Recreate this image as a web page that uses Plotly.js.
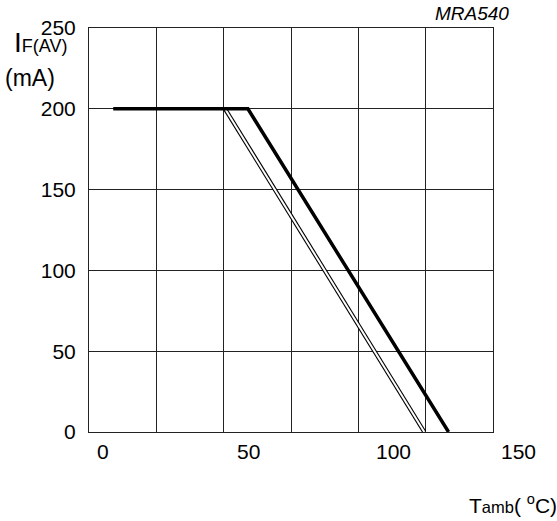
<!DOCTYPE html>
<html>
<head>
<meta charset="utf-8">
<script src="https://cdn.plot.ly/plotly-3.0.1.min.js"></script>
<style>html,body{margin:0;padding:0;background:#fff;}#chart{width:557px;height:521px;}</style>
</head>
<body>
<div id="chart"></div>
<script>
// Ambient temperature (deg C, grid units) and average forward current (mA)
const tempThick = [9, 59, 133.5];
const currentThick = [200, 200, 0];
const tempThin = [50.5, 124.5];
const currentThin = [200, 0];

const xTickLabels = ["0", "50", "100", "150"];
const xTickPaperPos = [0.0336, 0.3948, 0.7534, 1.0643];
const yTicks = [0, 50, 100, 150, 200, 250];

const FONT = "Liberation Sans, Arial, Helvetica, sans-serif";

const traces = [
  {x: tempThin, y: currentThin, mode: "lines", line: {color: "#000", width: 4.2}, hoverinfo: "skip", showlegend: false},
  {x: tempThin, y: currentThin, mode: "lines", line: {color: "#fff", width: 2}, hoverinfo: "skip", showlegend: false},
  {x: tempThick, y: currentThick, mode: "lines", line: {color: "#000", width: 3.5}, showlegend: false}
];

const annotations = xTickLabels.map((t, i) => ({
  text: t, xref: "paper", yref: "paper", x: xTickPaperPos[i], y: -0.049,
  xanchor: "center", yanchor: "middle", showarrow: false,
  font: {family: FONT, size: 21, color: "#000"}
}));

annotations.push(
  {text: "I<span style='font-size:18px'>F(AV)</span>", xref: "paper", yref: "paper",
   x: -0.19, y: 0.922, xanchor: "left", yanchor: "bottom", showarrow: false,
   font: {family: FONT, size: 28, color: "#000"}},
  {text: "(mA)", xref: "paper", yref: "paper",
   x: -0.214, y: 0.877, xanchor: "left", yanchor: "middle", showarrow: false,
   font: {family: FONT, size: 23, color: "#000"}},
  {text: "MRA540", xref: "paper", yref: "paper",
   x: 1.045, y: 1.035, xanchor: "right", yanchor: "middle", showarrow: false,
   font: {family: FONT, size: 19, color: "#000", style: "italic"}},
  {text: "T<span style='font-size:16.5px'>amb</span>( <sup>o</sup>C)", xref: "paper", yref: "paper",
   x: 1.163, y: -0.178, xanchor: "right", yanchor: "middle", showarrow: false,
   font: {family: FONT, size: 21, color: "#000"}}
);

const layout = {
  width: 557, height: 521,
  margin: {l: 89, r: 64, t: 28, b: 89},
  paper_bgcolor: "#fff", plot_bgcolor: "#fff",
  font: {family: FONT, size: 21, color: "#000"},
  xaxis: {range: [0, 150], dtick: 25, tick0: 0, showgrid: true, gridcolor: "#222", gridwidth: 1,
          showticklabels: false, zeroline: false, showline: true, linecolor: "#222", linewidth: 1, mirror: true, ticks: ""},
  yaxis: {range: [0, 250], tickvals: yTicks, showgrid: true, gridcolor: "#222", gridwidth: 1,
          zeroline: false, showline: true, linecolor: "#222", linewidth: 1, mirror: true, ticks: "",
          ticklabelstandoff: 8, tickfont: {family: FONT, size: 21, color: "#000"}},
  annotations: annotations
};

Plotly.newPlot("chart", traces, layout, {staticPlot: true, displayModeBar: false});
</script>
</body>
</html>
